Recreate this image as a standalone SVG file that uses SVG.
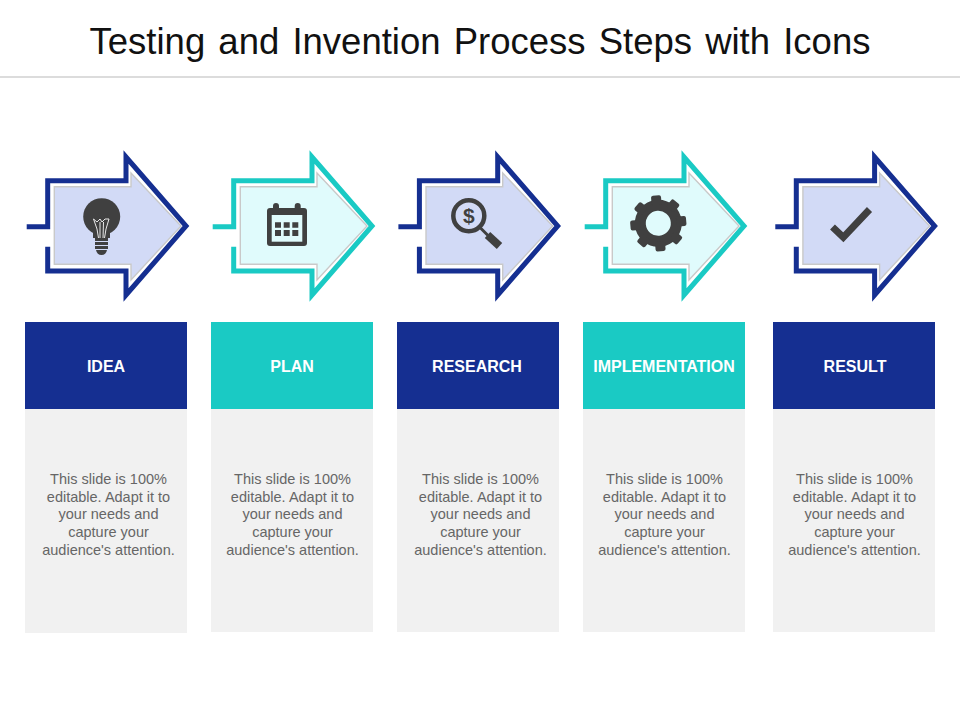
<svg xmlns="http://www.w3.org/2000/svg" xmlns:xlink="http://www.w3.org/1999/xlink" width="960" height="720" viewBox="0 0 960 720">
<style>
text{font-family:"Liberation Sans",Arial,sans-serif}
.title{font-size:36.5px;fill:#111;text-anchor:middle;word-spacing:3px}
.lab{font-size:16px;font-weight:bold;fill:#fff;text-anchor:middle}
.body{font-size:14.5px;fill:#666;text-anchor:middle}
.hn{fill:#152f91}.ht{fill:#1acac4}
.bd{fill:#f1f1f1}
.on{fill:none;stroke:#152f91;stroke-width:5;stroke-miterlimit:8}
.ot{fill:none;stroke:#1acac4;stroke-width:5;stroke-miterlimit:8}
.in{fill:#d2daf6;stroke:#c9c9c9;stroke-width:1.4}
.it{fill:#e0fbfc;stroke:#c9c9c9;stroke-width:1.4}
.ic{fill:#404040}
.icl{fill:none;stroke:#404040}
</style>
<defs>
<path id="outer" d="M26.700 226.700H47.700V180.700H126V157L186 226L126 295V271H47.700V246.700"/>
<path id="inner" d="M54.300 186.700H131V173L181 226L131 280V264.300H54.300Z"/>
</defs>
<g id="header">
<text class="title" x="480" y="54">Testing and Invention Process Steps with Icons</text>
<rect x="0" y="76" width="960" height="2" fill="#dcdcdc"/>
</g>
<g id="connectors">
<use href="#outer" class="on"/>
<use href="#outer" class="ot" x="186"/>
<use href="#outer" class="on" x="371.700"/>
<use href="#outer" class="ot" x="558"/>
<use href="#outer" class="on" x="748.600"/>
</g>
<g id="step-idea">
<use href="#inner" class="in"/>
<circle class="ic" cx="101.700" cy="216.700" r="18.500"/>
<path class="ic" d="M93 230H110V238H93Z"/>
<path d="M93.500 219L97 222L100 219L102 222L105 219L109 219L106 229L104.500 238M93.500 219L97 229L98.500 238M100 222L100 238M103.500 222L103 238" fill="none" stroke="#e8e8e8" stroke-width="1"/>
<path class="ic" d="M95 238H108V241H95ZM95 242H108V245H95ZM95 246H108V249H95ZM96 250H107Q106 255 101.500 255Q97 255 96 250Z"/>
<rect class="hn" x="25" y="322" width="162" height="87"/>
<rect class="bd" x="25" y="409" width="162" height="224"/>
<text class="lab" x="106" y="371.500">IDEA</text>
<text class="body" x="108.500"><tspan x="108.500" y="484">This slide is 100%</tspan><tspan x="108.500" y="502">editable. Adapt it to</tspan><tspan x="108.500" y="519">your needs and</tspan><tspan x="108.500" y="537">capture your</tspan><tspan x="108.500" y="555">audience's attention.</tspan></text>
</g>
<g id="step-plan">
<use href="#inner" class="it" x="186"/>
<rect class="ic" x="267" y="208" width="40" height="38" rx="3"/>
<rect class="ic" x="273" y="203" width="6" height="10" rx="3"/>
<rect class="ic" x="294.700" y="203" width="6" height="10" rx="3"/>
<rect x="271.700" y="215" width="30.600" height="26.700" fill="#e0fbfc"/>
<path class="ic" d="M275 222.300h6v5.400h-6zM283.700 222.300h6v5.400h-6zM292.300 222.300h6v5.400h-6zM275 230h6v6h-6zM283.700 230h6v6h-6zM292.300 230h6v6h-6z"/>
<rect class="ht" x="211" y="322" width="162" height="87"/>
<rect class="bd" x="211" y="409" width="162" height="223"/>
<text class="lab" x="292" y="371.500">PLAN</text>
<text class="body" x="292.500"><tspan x="292.500" y="484">This slide is 100%</tspan><tspan x="292.500" y="502">editable. Adapt it to</tspan><tspan x="292.500" y="519">your needs and</tspan><tspan x="292.500" y="537">capture your</tspan><tspan x="292.500" y="555">audience's attention.</tspan></text>
</g>
<g id="step-research">
<use href="#inner" class="in" x="371.700"/>
<circle class="icl" cx="468.800" cy="215.700" r="15.500" stroke-width="4.500"/>
<text x="468.800" y="223" font-size="21" font-weight="bold" fill="#404040" text-anchor="middle">$</text>
<path class="icl" d="M480.500 228L488 235.500" stroke-width="3"/>
<path class="icl" d="M487.500 235L499.500 246" stroke-width="8"/>
<rect class="hn" x="397" y="322" width="162" height="87"/>
<rect class="bd" x="397" y="409" width="162" height="223"/>
<text class="lab" x="477" y="371.500">RESEARCH</text>
<text class="body" x="480.500"><tspan x="480.500" y="484">This slide is 100%</tspan><tspan x="480.500" y="502">editable. Adapt it to</tspan><tspan x="480.500" y="519">your needs and</tspan><tspan x="480.500" y="537">capture your</tspan><tspan x="480.500" y="555">audience's attention.</tspan></text>
</g>
<g id="step-implementation">
<use href="#inner" class="it" x="558"/>
<g transform="translate(658.300 223.300) rotate(-5)">
<circle class="icl" r="18" stroke-width="11"/>
<g class="ic">
<rect x="-5" y="-28" width="10" height="10" rx="2"/>
<rect x="-5" y="-28" width="10" height="10" rx="2" transform="rotate(45)"/>
<rect x="-5" y="-28" width="10" height="10" rx="2" transform="rotate(90)"/>
<rect x="-5" y="-28" width="10" height="10" rx="2" transform="rotate(135)"/>
<rect x="-5" y="-28" width="10" height="10" rx="2" transform="rotate(180)"/>
<rect x="-5" y="-28" width="10" height="10" rx="2" transform="rotate(225)"/>
<rect x="-5" y="-28" width="10" height="10" rx="2" transform="rotate(270)"/>
<rect x="-5" y="-28" width="10" height="10" rx="2" transform="rotate(315)"/>
</g>
</g>
<rect class="ht" x="583" y="322" width="162" height="87"/>
<rect class="bd" x="583" y="409" width="162" height="223"/>
<text class="lab" x="664" y="371.500">IMPLEMENTATION</text>
<text class="body" x="664.500"><tspan x="664.500" y="484">This slide is 100%</tspan><tspan x="664.500" y="502">editable. Adapt it to</tspan><tspan x="664.500" y="519">your needs and</tspan><tspan x="664.500" y="537">capture your</tspan><tspan x="664.500" y="555">audience's attention.</tspan></text>
</g>
<g id="step-result">
<use href="#inner" class="in" x="748.600"/>
<path class="icl" d="M832.500 227L843.300 237.300L869.500 209.500" stroke-width="7" stroke-linejoin="miter"/>
<rect class="hn" x="773" y="322" width="162" height="87"/>
<rect class="bd" x="773" y="409" width="162" height="223"/>
<text class="lab" x="855" y="371.500">RESULT</text>
<text class="body" x="854.500"><tspan x="854.500" y="484">This slide is 100%</tspan><tspan x="854.500" y="502">editable. Adapt it to</tspan><tspan x="854.500" y="519">your needs and</tspan><tspan x="854.500" y="537">capture your</tspan><tspan x="854.500" y="555">audience's attention.</tspan></text>
</g>
</svg>
